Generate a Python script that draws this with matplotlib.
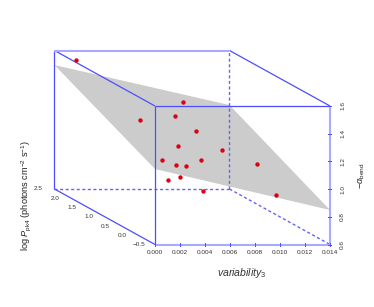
import numpy as np
import matplotlib
matplotlib.use('Agg')
import matplotlib.pyplot as plt

plt.rcParams['font.family'] = ['Liberation Sans', 'DejaVu Sans']
plt.rcParams['mathtext.fontset'] = 'custom'
plt.rcParams['mathtext.rm'] = 'Liberation Sans'
plt.rcParams['mathtext.it'] = 'Liberation Sans:italic'

# data (depth values are estimates)
variability = [0.00121, 0.00628, 0.00506, 0.00443, 0.00569, 0.00479, 0.00721, 0.00324,
               0.00526, 0.00382, 0.00355, 0.00238, 0.0028, 0.00872, 0.00995, 0.0052]
log_p = [2.3, 1.0, 0.8, 1.6, 0.4, 0.6, 0.2, 0.5, 0.1, 0.3, -0.1, 0.0, -0.2, -0.3, -0.4, 0.0]
alpha = [1.556, 1.426, 1.354, 1.216, 1.297, 1.162, 1.191, 1.074,
         1.128, 1.065, 1.113, 1.001, 1.045, 1.155, 0.944, 0.917]

x_ticks = [0.000, 0.002, 0.004, 0.006, 0.008, 0.010, 0.012, 0.014]
y_ticks = [-0.5, 0.0, 0.5, 1.0, 1.5, 2.0, 2.5]
z_ticks = [0.6, 0.8, 1.0, 1.2, 1.4, 1.6]

# fitted plane at the box corners
plane_x = [0.0, 0.014, 0.014, 0.0]
plane_y = [2.5, 2.5, -0.5, -0.5]
plane_z = [1.495, 1.206, 0.849, 1.145]

BLUE = '#4d4dff'
DASH = '#6464f5'
PALE = '#a9a9ff'


# oblique projection like scatterplot3d, result in pixels
def proj(x, y, z):
    x, y, z = np.asarray(x), np.asarray(y), np.asarray(z)
    f = (y + 0.5) / 3.0
    sx = 155 + x / 0.014 * 175 - f * 100.5
    sy = 244.5 - (z - 0.6) * 138.5 - f * 55.5
    return sx, sy


def line3(p, q, **kw):
    sx, sy = proj([p[0], q[0]], [p[1], q[1]], [p[2], q[2]])
    ax.plot(sx, sy, color=kw.pop('color', BLUE), solid_capstyle='butt', **kw)


fig = plt.figure(figsize=(3.74, 3.07), dpi=100)
ax = fig.add_axes([0, 0, 1, 1])
ax.set_xlim(0, 374)
ax.set_ylim(307, 0)
ax.axis('off')

sx, sy = proj(plane_x, plane_y, plane_z)
ax.fill(sx, sy, color='#cccccc', lw=0, zorder=1)

x0, x1 = 0.0, 0.014
y0, y1 = -0.5, 2.5
z0, z1 = 0.6, 1.6

# hidden edges
dash = dict(lw=1.0, ls=(0, (2.2, 1.8)), color=DASH, zorder=2)
line3((x0, y1, z0), (x1, y1, z0), **dash)
line3((x1, y1, z0), (x1, y1, z1), **dash)
line3((x1, y1, z0), (x1, y0, z0), **dash)

# visible edges
solid = dict(lw=0.9, zorder=2)
line3((x0, y0, z0), (x0, y0, z1), **solid)
line3((x0, y0, z1), (x1, y0, z1), **solid)
line3((x0, y1, z0), (x0, y1, z1), **solid)
line3((x0, y1, z1), (x0, y0, z1), **solid)
line3((x1, y1, z1), (x1, y0, z1), **solid)
line3((x0, y1, z0), (x0, y0, z0), **solid)

# axis lines, these look heavier and paler
heavy = dict(lw=1.5, color=PALE, zorder=2)
line3((x0, y0, z0), (x1, y0, z0), **heavy)
line3((x1, y0, z0), (x1, y0, z1), **heavy)
line3((x0, y1, z1), (x1, y1, z1), **heavy)

# ticks and tick labels
tick_font = dict(fontsize=4.6, color='#333333', ha='center', va='center')
for t in x_ticks:
    sx, sy = proj(t, y0, z0)
    ax.plot([sx, sx], [sy - 1.5, sy + 1.5], color=BLUE, lw=0.7, zorder=3)
    ax.text(sx, sy + 8.5, '%.3f' % t, **tick_font)
for t in z_ticks:
    sx, sy = proj(x1, y0, t)
    ax.plot([sx - 1.5, sx + 1.5], [sy, sy], color=BLUE, lw=0.7, zorder=3)
    ax.text(sx + 12.5, sy, '%.1f' % t, rotation=90, **tick_font)
for t in y_ticks:
    sx, sy = proj(x0, t, z0)
    ax.text(sx - 16, sy, '%.1f' % t if t >= 0 else '\u2212%.1f' % -t, **tick_font)

# points
sx, sy = proj(variability, log_p, alpha)
ax.scatter(sx, sy, s=10, color='#dd0011', lw=0, zorder=4)

# axis titles
ax.text(26, 196, r'log $\mathit{P}_{\mathrm{pk4}}$ (photons cm$^{-2}$ s$^{-1}$)', rotation=90,
        fontsize=6.6, color='#222222', ha='center', va='center')
ax.text(242, 273, r'$\mathit{variability}_{3}$', fontsize=7.6, color='#333333', ha='center', va='center')
ax.text(362, 176, r'$-\alpha_{\mathrm{bend}}$', rotation=90, fontsize=6.6, color='#222222',
        ha='center', va='center')

fig.savefig('out.png', dpi=100)
